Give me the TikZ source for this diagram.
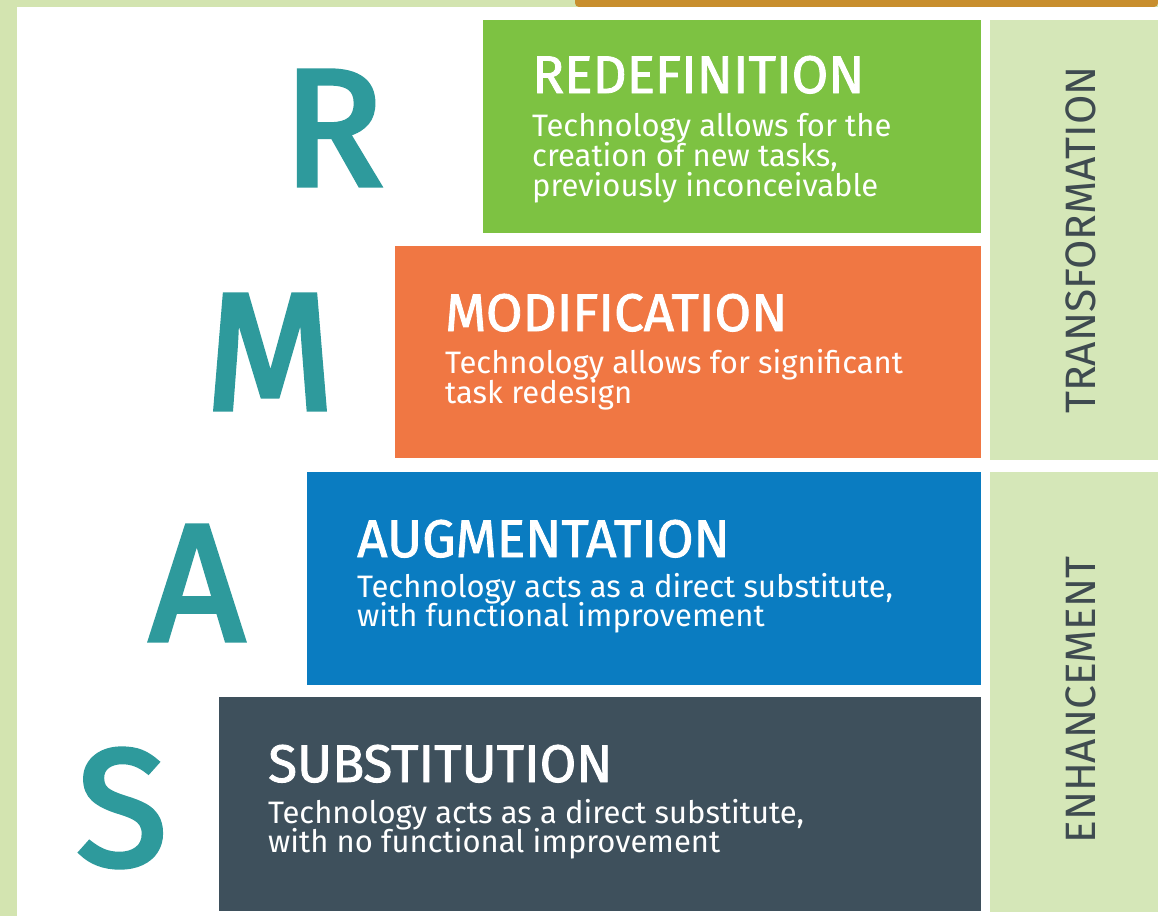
\documentclass[tikz,border=0pt]{standalone}
\usepackage{fontspec}
\setmainfont{Fira Sans}
\newfontfamily\medfont{Fira Sans}[FakeBold=1.6]
\newfontfamily\letterfont{Fira Sans}[FakeBold=3]
\definecolor{bggreen}{HTML}{D3E4B0}
\definecolor{gold}{HTML}{C88E2E}
\definecolor{rgreen}{HTML}{7DC242}
\definecolor{morange}{HTML}{F07743}
\definecolor{ablue}{HTML}{0A7CC1}
\definecolor{sslate}{HTML}{3E505C}
\definecolor{teal}{HTML}{2E9A9C}
\definecolor{side}{HTML}{D5E7B8}
\definecolor{sidetext}{HTML}{3F4B50}
\tikzset{
  ttl/.style={anchor=base west, inner sep=0, text=white, font=\medfont\fontsize{53}{53}\selectfont},
  dsc/.style={anchor=base west, inner sep=0, text=white, font=\fontsize{31}{31}\selectfont},
  bigletter/.style={anchor=center, inner sep=0, text=teal, font=\letterfont\fontsize{166}{166}\selectfont},
  sidelabel/.style={anchor=center, inner sep=0, rotate=90, text=sidetext, font=\fontsize{42.5}{42.5}\selectfont}
}
\begin{document}
\begin{tikzpicture}[x=1pt,y=-1pt]
\useasboundingbox (0,0) rectangle (1158,916);
% background
\fill[bggreen] (0,0) rectangle (1158,916);
\fill[gold, rounded corners=4pt] (575,-10) rectangle (1158,7);
\fill[white] (17,7) rectangle (1158,916);
% level boxes
\fill[rgreen] (483,20) rectangle (981,233);
\fill[morange] (395,246) rectangle (981,458);
\fill[ablue] (307,472) rectangle (981,685);
\fill[sslate] (219,697) rectangle (981,911);
% side boxes
\fill[side] (990,20) rectangle (1158,460);
\fill[side] (990,472) rectangle (1158,912);
\node[sidelabel] (tlab) at (1081,240) {TRANSFORMATION};
\node[sidelabel] (elab) at (1081,700) {ENHANCEMENT};
% big letters
\node[bigletter] (R) at (333,128) {R};
\node[bigletter] (M) at (270,352) {M};
\node[bigletter] (A) at (197,583) {A};
\node[bigletter] (S) at (122,808) {S};
% Redefinition
\node[ttl] (rt) at (532,93) {REDEFINITION};
\node[dsc] (rd1) at (532,136) {Technology allows for the};
\node[dsc] (rd2) at (532,166) {creation of new tasks,};
\node[dsc] (rd3) at (532,196) {previously inconceivable};
% Modification
\node[ttl] (mt) at (445,331) {MODIFICATION};
\node[dsc] (md1) at (445,373) {Technology allows for significant};
\node[dsc] (md2) at (445,403) {task redesign};
% Augmentation
\node[ttl] (at) at (357,557) {AUGMENTATION};
\node[dsc] (ad1) at (357,597) {Technology acts as a direct substitute,};
\node[dsc] (ad2) at (357,626) {with functional improvement};
% Substitution
\node[ttl] (st) at (268,782) {SUBSTITUTION};
\node[dsc] (sd1) at (268,823) {Technology acts as a direct substitute,};
\node[dsc] (sd2) at (268,852) {with no functional improvement};
\end{tikzpicture}
\end{document}
